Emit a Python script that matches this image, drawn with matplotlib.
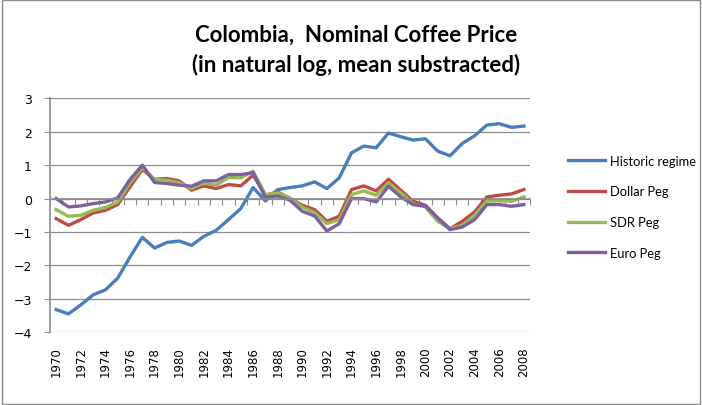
import matplotlib
matplotlib.use("Agg")
import matplotlib.pyplot as plt
from matplotlib.patches import Rectangle
import numpy as np

years = list(range(1970, 2009))

historic = [-3.32, -3.45, -3.18, -2.88, -2.73, -2.38, -1.75, -1.16, -1.48, -1.31,
            -1.27, -1.40, -1.13, -0.95, -0.63, -0.30, 0.33, -0.07, 0.27, 0.33,
            0.38, 0.50, 0.30, 0.62, 1.37, 1.57, 1.52, 1.96, 1.85, 1.75,
            1.79, 1.42, 1.28, 1.65, 1.88, 2.20, 2.24, 2.13, 2.17]

dollar_peg = [-0.60, -0.80, -0.63, -0.43, -0.35, -0.18, 0.35, 0.87, 0.58, 0.60,
              0.53, 0.25, 0.38, 0.30, 0.42, 0.38, 0.70, 0.10, 0.20, 0.00,
              -0.20, -0.33, -0.68, -0.53, 0.27, 0.38, 0.23, 0.58, 0.25, -0.08,
              -0.20, -0.58, -0.90, -0.68, -0.40, 0.05, 0.10, 0.14, 0.27]

sdr_peg = [-0.33, -0.53, -0.50, -0.35, -0.27, -0.10, 0.47, 0.92, 0.57, 0.55,
           0.47, 0.30, 0.47, 0.40, 0.63, 0.62, 0.82, 0.12, 0.17, 0.02,
           -0.25, -0.42, -0.75, -0.63, 0.12, 0.23, 0.10, 0.47, 0.17, -0.15,
           -0.25, -0.68, -0.90, -0.80, -0.50, -0.07, -0.07, -0.08, 0.05]

euro_peg = [0.00, -0.25, -0.22, -0.15, -0.10, 0.02, 0.57, 1.00, 0.48, 0.45,
            0.40, 0.37, 0.53, 0.53, 0.72, 0.72, 0.77, 0.04, 0.08, -0.05,
            -0.38, -0.52, -0.97, -0.75, 0.00, 0.00, -0.10, 0.37, 0.05, -0.18,
            -0.22, -0.58, -0.93, -0.85, -0.63, -0.18, -0.18, -0.23, -0.18]

series = [
    ("Historic regime", historic, "#4A7EBB"),
    ("Dollar Peg", dollar_peg, "#BE4B48"),
    ("SDR Peg", sdr_peg, "#98B954"),
    ("Euro Peg", euro_peg, "#7D60A0"),
]

fig = plt.figure(figsize=(7.02, 4.06), dpi=100)
ax = fig.add_axes([50 / 702, 1 - 333.3 / 406, 480 / 702, 234 / 406])

x = np.arange(len(years))
for name, vals, col in series:
    ax.plot(x, vals, color=col, lw=2.4, label=name, solid_joinstyle="round")

ax.set_xlim(-0.5, len(years) - 0.5)
ax.set_ylim(-4, 3)
ax.set_yticks(range(-4, 4))
ax.yaxis.grid(True, color="#8c8c8c", lw=0.9)
ax.set_axisbelow(True)
ax.tick_params(axis="y", length=4, color="#8c8c8c", labelsize=9, pad=9)

# category axis crosses at zero, labels sit at the bottom
for s in ["top", "right"]:
    ax.spines[s].set_visible(False)
ax.spines["left"].set_color("#8c8c8c")
ax.spines["left"].set_linewidth(1.2)
ax.spines["bottom"].set_position(("data", 0))
ax.spines["bottom"].set_color("#8c8c8c")
ax.spines["bottom"].set_linewidth(1.2)
ax.set_xticks(np.arange(len(years) + 1) - 0.5)
ax.set_xticklabels([])
ax.tick_params(axis="x", length=4, color="#8c8c8c")

lab = ax.secondary_xaxis("bottom")
lab.set_xticks(x[::2])
lab.set_xticklabels([str(y) for y in years[::2]], rotation=90)
lab.tick_params(length=0, labelsize=8.5, pad=10)
lab.spines["bottom"].set_visible(False)

fig.text(356 / 702, 1 - 35 / 406, "Colombia,  Nominal Coffee Price",
         ha="center", va="center", fontsize=16, fontweight="bold", family="Lato")
fig.text(356 / 702, 1 - 65 / 406, "(in natural log, mean substracted)",
         ha="center", va="center", fontsize=16, fontweight="bold", family="Lato")

ax.legend(loc="upper left", bbox_to_anchor=(556 / 702, 1 - 144 / 406),
          bbox_transform=fig.transFigure, frameon=False,
          prop={"family": "Lato", "size": 9.3}, handlelength=2.9,
          labelspacing=1.45, handletextpad=0.35)

fig.add_artist(Rectangle((0.003, 0.003), 0.994, 0.994, transform=fig.transFigure,
                         fill=False, edgecolor="#8c8c8c", lw=1))

fig.savefig("out.png", dpi=100)
